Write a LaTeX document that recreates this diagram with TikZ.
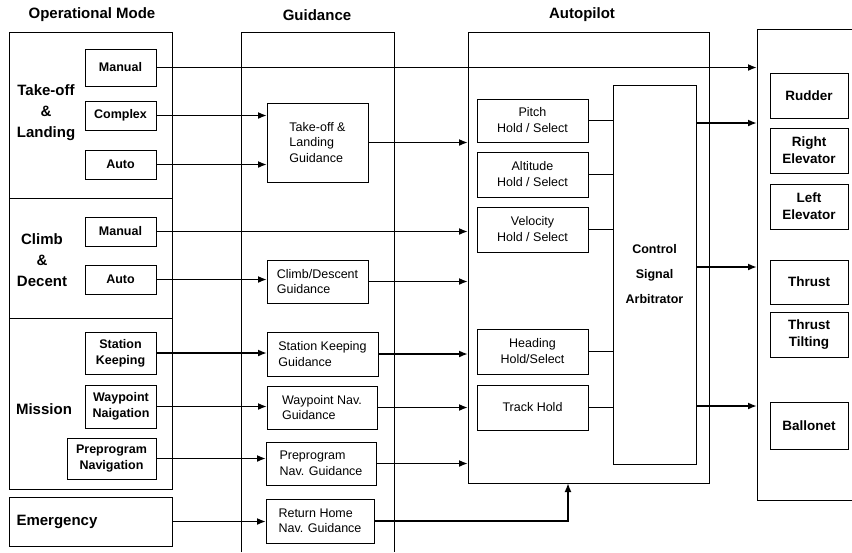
\documentclass[tikz,border=0pt]{standalone}
\usepackage{fontspec}
\setmainfont{Liberation Sans}
\usetikzlibrary{arrows.meta}

\begin{document}
\begin{tikzpicture}[x=1pt,y=-1pt,
    secframe/.style={draw,line width=1pt,inner sep=0pt,outer sep=0pt},
    box/.style={draw,line width=1pt,inner sep=0pt,outer sep=0pt},
    head/.style={font=\fontsize{15}{18}\selectfont\bfseries},
    sec/.style={align=center,font=\fontsize{15}{21}\selectfont\bfseries},
    mode/.style={box,align=center,minimum width=71pt,font=\fontsize{12.5}{16}\selectfont\bfseries},
    guid/.style={box,align=left,minimum height=43pt,font=\fontsize{12.5}{15.5}\selectfont},
    hold/.style={box,align=center,minimum width=111pt,minimum height=45pt,font=\fontsize{12.5}{16}\selectfont},
    act/.style={box,align=center,minimum width=78pt,minimum height=45pt,font=\fontsize{13.5}{17}\selectfont\bfseries},
    arr/.style={line width=1.8pt,-{Latex[length=9pt,width=7pt]}},
    wire/.style={line width=1.8pt}]
    \useasboundingbox (0,0) rectangle (852,552);

    % headings
    \node[head] (hOp) at (92,15) {Operational Mode};
    \node[head] (hGd) at (317,15) {Guidance};
    \node[head] (hAp) at (582,15) {Autopilot};

    % operational mode
    \node[secframe,minimum width=163pt,minimum height=166pt] (secTL) at (90.5,115) {};
    \node[secframe,minimum width=163pt,minimum height=120pt] (secCD) at (90.5,258) {};
    \node[secframe,minimum width=163pt,minimum height=171pt] (secMs) at (90.5,403.5) {};
    \node[secframe,minimum width=163pt,minimum height=49pt] (secEm) at (90.5,521.5) {};
    \node[sec] (lTL) at (46,113) {Take-off\\\&\\Landing};
    \node[sec] (lCD) at (42,260) {Climb\\\&\\Decent};
    \node[sec] (lMs) at (44,409) {Mission};
    \node[sec,anchor=west] (lEm) at (13,522) {Emergency};

    \node[mode,minimum height=37pt] (mTLman) at (120.5,67.5) {Manual};
    \node[mode,minimum height=29pt] (mTLcpx) at (120.5,115.5) {Complex};
    \node[mode,minimum height=29pt] (mTLaut) at (120.5,164.5) {Auto};
    \node[mode,minimum height=29pt] (mCDman) at (120.5,231.5) {Manual};
    \node[mode,minimum height=29pt] (mCDaut) at (120.5,279.5) {Auto};
    \node[mode,minimum height=42pt] (mStn) at (120.5,353) {Station\\Keeping};
    \node[mode,minimum height=43pt] (mWpt) at (121,406.5) {Waypoint\\Naigation};
    \node[mode,minimum width=89pt,minimum height=41pt] (mPre) at (111.5,458.5) {Preprogram\\Navigation};

    % guidance
    \draw[line width=1pt] (241,552) -- (241,32) -- (394,32) -- (394,552);
    \node[guid,minimum width=101pt,minimum height=79pt] (gTL) at (317.5,142.5) {Take-off \&\\Landing\\Guidance};
    \node[guid,minimum width=101pt] (gCD) at (317.5,281.5) {Climb/Descent\\Guidance};
    \node[guid,minimum width=111pt,minimum height=44pt] (gSK) at (322.5,354) {Station Keeping\\Guidance};
    \node[guid,minimum width=110pt] (gWP) at (322,407.5) {Waypoint Nav.\\Guidance};
    \node[guid,minimum width=110pt] (gPP) at (321,463.5) {Preprogram\\Nav. Guidance};
    \node[guid,minimum width=108pt,minimum height=44pt] (gRH) at (320,521) {Return Home\\Nav. Guidance};

    % autopilot
    \node[secframe,minimum width=241pt,minimum height=451pt] (ap) at (588.5,257.5) {};
    \node[hold,minimum height=43pt] (aPit) at (532.5,120.5) {Pitch\\Hold / Select};
    \node[hold] (aAlt) at (532.5,174.5) {Altitude\\Hold / Select};
    \node[hold] (aVel) at (532.5,229.5) {Velocity\\Hold / Select};
    \node[hold] (aHdg) at (532.5,351.5) {Heading\\Hold/Select};
    \node[hold] (aTrk) at (532.5,407.5) {Track Hold};
    \node[box,minimum width=83pt,minimum height=379pt,align=center,
          font=\fontsize{12.5}{25}\selectfont\bfseries] (arb) at (654.5,274.5) {Control\\Signal\\Arbitrator};

    % actuators
    \draw[line width=1pt] (852,29) -- (757,29) -- (757,500) -- (852,500);
    \coordinate (actW) at (757,29);
    \node[act] (rud) at (809,95.5) {Rudder};
    \node[act] (rel) at (809,150.5) {Right\\Elevator};
    \node[act] (lel) at (809,206.5) {Left\\Elevator};
    \node[act,minimum height=44pt] (thr) at (809,282) {Thrust};
    \node[act] (tilt) at (809,334.5) {Thrust\\Tilting};
    \node[act,minimum height=47pt] (bal) at (809,425.5) {Ballonet};

    % connectors
    \draw[arr] (mTLman.east) -- (mTLman.east -| actW);
    \draw[arr] (mTLcpx.east) -- (mTLcpx.east -| gTL.west);
    \draw[arr] (mTLaut.east) -- (mTLaut.east -| gTL.west);
    \draw[arr] (gTL.east) -- (gTL.east -| ap.west);
    \draw[arr] (mCDman.east) -- (mCDman.east -| ap.west);
    \draw[arr] (mCDaut.east) -- (mCDaut.east -| gCD.west);
    \draw[arr] (gCD.east) -- (gCD.east -| ap.west);
    \draw[arr] (mStn.east) -- (mStn.east -| gSK.west);
    \draw[arr] (gSK.east) -- (gSK.east -| ap.west);
    \draw[arr] (mWpt.east) -- (mWpt.east -| gWP.west);
    \draw[arr] (gWP.east) -- (gWP.east -| ap.west);
    \draw[arr] (mPre.east) -- (mPre.east -| gPP.west);
    \draw[arr] (gPP.east) -- (gPP.east -| ap.west);
    \draw[arr] (secEm.east) -- (secEm.east -| gRH.west);
    \coordinate (rhUp) at (568,483);
    \draw[arr] (gRH.east) -| (rhUp);

    \foreach \h in {aPit,aAlt,aVel,aHdg,aTrk}
        \draw[wire] (\h.east) -- (\h.east -| arb.west);

    \coordinate (arbO1) at (696,123);
    \coordinate (arbO2) at (696,267);
    \coordinate (arbO3) at (696,406);
    \foreach \o in {arbO1,arbO2,arbO3}
        \draw[arr] (\o) -- (\o -| actW);
\end{tikzpicture}
\end{document}
